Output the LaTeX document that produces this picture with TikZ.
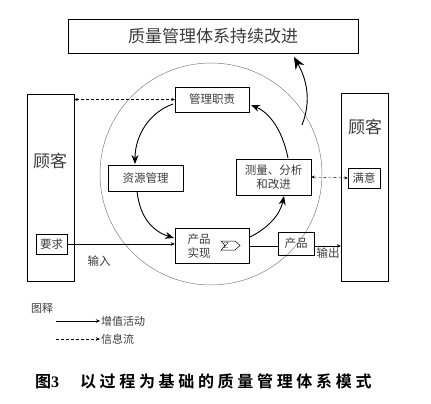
\documentclass[tikz,border=0pt]{standalone}
\usepackage{fontspec}
\setmainfont{Liberation Serif}
\newfontfamily\cjk{Noto Sans CJK SC}
\newfontfamily\cjkbf{Noto Sans CJK SC Bold}
\newfontfamily\cjkb[LetterSpace=23]{Noto Sans CJK SC Bold}
\usepackage{tikz}
\usetikzlibrary{calc,positioning,arrows.meta}
\definecolor{txtgray}{RGB}{60,60,60}
\tikzstyle{blk} = [draw=black, inner sep=0pt, text=txtgray, font=\cjk\fontsize{11.5}{14}\selectfont, align=center]
\tikzstyle{flow} = [line width=0.9pt, -{Stealth[length=9pt,width=7pt]}]
\tikzstyle{info} = [dash pattern=on 3pt off 2pt, {Stealth[length=3.5pt,width=3pt]}-{Stealth[length=3.5pt,width=3pt]}]
\tikzstyle{val} = [-{Stealth[length=4pt,width=3.5pt]}]
\tikzstyle{lbl} = [inner sep=0pt, text=txtgray, font=\cjk\fontsize{11.5}{14}\selectfont]

\begin{document}
\begin{tikzpicture}[x=1pt,y=-1pt]
			\useasboundingbox (0,0) rectangle (431,404);
			% circle
			\draw[gray, line width=0.5pt] (211,174) circle (111);
			% boxes
			\node[blk, minimum width=290, minimum height=34, font=\cjk\fontsize{17}{20}\selectfont] (title) at (213,36) {质量管理体系持续改进};
			\node[blk, minimum width=47, minimum height=187] (custL) at (50.5,187.5) {};
			\node[lbl, font=\cjk\fontsize{17}{20}\selectfont] (custLt) at (50,161) {顾客};
			\node[blk, minimum width=47, minimum height=188] (custR) at (364.5,187) {};
			\node[lbl, font=\cjk\fontsize{17}{20}\selectfont] (custRt) at (365,127) {顾客};
			\node[blk, minimum width=74, minimum height=25] (duty) at (212,99.5) {管理职责};
			\node[blk, minimum width=75, minimum height=26] (res) at (145.5,178) {资源管理};
			\node[blk, minimum width=75, minimum height=36] (meas) at (273.5,177) {测量、分析\\和改进};
			\node[blk, minimum width=32, minimum height=20] (satis) at (364,178) {满意};
			\node[blk, minimum width=74, minimum height=35] (real) at (212,245.5) {};
			\node[lbl, font=\cjk\fontsize{11.5}{14}\selectfont, align=left] (realt) at (199,246) {产品\\实现};
			\node[blk, minimum width=36, minimum height=23] (prod) at (296,243.5) {产品};
			\node[blk, minimum width=31, minimum height=20] (req) at (51.5,244) {要求};
			% tag mark
			\draw[line width=0.5pt] (235,241) -- (221,241) -- (225,245.5) -- (221,250) -- (235,250) -- (240,245.5) -- cycle;
			\draw[line width=0.4pt] (224,242.5) -- (228,242.5) -- (224,247.5) -- (228,247.5);
			% straight connectors
			\draw[val] (req.east) -- (req.east-|real.west);
			\node[lbl] (inp) at (99,261) {输入};
			\draw (real.east|-0,246) -- (prod.west|-0,246);
			\draw[val] (prod.east|-0,246) -- (custR.west|-0,246);
			\node[lbl] (outp) at (328,253) {输出};
			\draw[info] (custL.east|-duty.west) -- (duty.west);
			\draw[info] (meas.east) -- (satis.west);
			% cycle arrows
			\draw[flow] (173,104) .. controls (150,112) and (135,135) .. (135,164);
			\draw[flow] (137,191) .. controls (140,220) and (155,232) .. (174,238);
			\draw[flow] (250,237) .. controls (268,228) and (280,215) .. (284,196);
			\draw[flow] (288,158) .. controls (282,128) and (268,112) .. (251,105);
			\draw[flow, -{Stealth[length=12pt,width=10pt]}] (302,125) .. controls (312,100) and (306,78) .. (294,57);
			% legend
			\node[lbl, font=\cjk\fontsize{11}{13}\selectfont] (leg) at (42,308) {图释};
			\coordinate (s1) at (56,321);
			\coordinate (s2) at (56,339);
			\draw[val] (s1) -- ++(44,0) node[lbl, right=1pt, font=\cjk\fontsize{11}{13}\selectfont] (lv) {增值活动};
			\draw[val, dash pattern=on 3pt off 2pt] (s2) -- ++(44,0) node[lbl, right=1pt, font=\cjk\fontsize{11}{13}\selectfont] (li) {信息流};
			% caption
			\node[inner sep=0pt, anchor=west, font=\fontsize{16}{18}\selectfont] (cap) at (35,381) {{\cjkbf 图}\textbf{3}\hspace{1.3em}{\cjkb 以过程为基础的质量管理体系模式}};
		\end{tikzpicture}
\end{document}
